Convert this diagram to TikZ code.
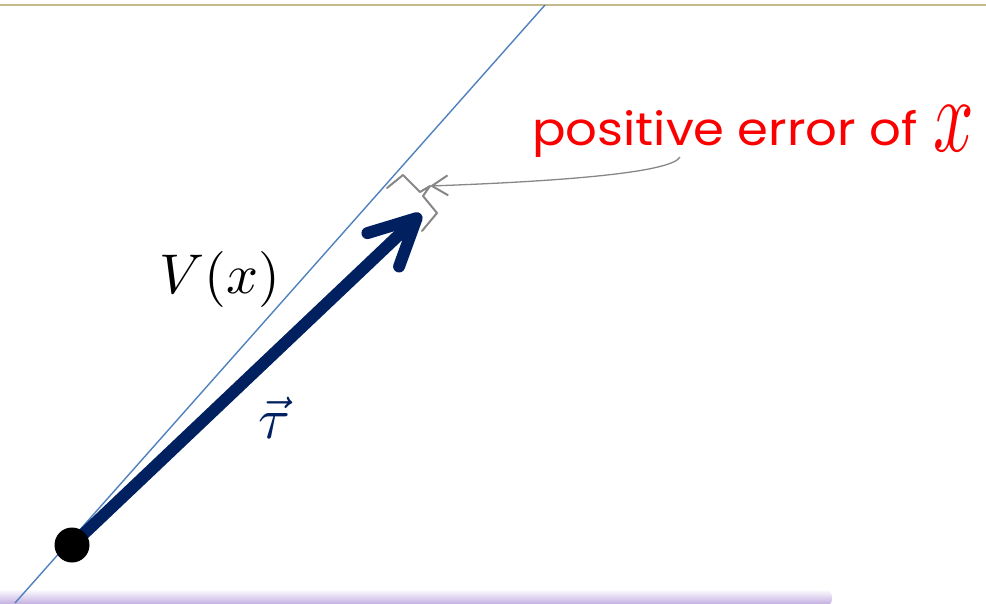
\documentclass[tikz,border=0pt]{standalone}
\usepackage{fontspec}
\newfontfamily\handfont{Poppins}
\usetikzlibrary{arrows.meta}
\definecolor{navy}{RGB}{0,32,96}
\definecolor{lineblue}{RGB}{79,129,189}
\definecolor{topline}{RGB}{196,186,140}
\definecolor{band}{RGB}{185,160,220}
\definecolor{notered}{RGB}{250,0,0}
\definecolor{notegray}{RGB}{135,135,135}
\tikzset{
  notestroke/.style={notegray, line width=2pt, line join=round, line cap=round},
  mathlabel/.style={anchor=base, inner sep=0pt},
}
\begin{document}
\begin{tikzpicture}[x=1pt,y=-1pt]
\useasboundingbox (0,0) rectangle (986,603);
% top rule
\draw[topline, line width=2.5pt] (0,5) -- (986,5);
% bottom band
\begin{scope}
  \clip (0,0) rectangle (986,603);
  \shade[top color=white, bottom color=band, rounded corners=8pt] (-10,589) rectangle (832,607);
\end{scope}
% tangent line
\coordinate (lineA) at (15,603);
\coordinate (lineB) at (545,5);
\draw[lineblue, line width=1.4pt] (lineA) -- (lineB);
% vector
\coordinate (dotc) at (72,545);
\coordinate (tip) at (421,214);
\draw[navy, line width=12pt, line cap=round,
  -{Straight Barb[length=46pt, width=46pt, line cap=round, line join=round]}] (dotc) -- (tip);
\node[circle, fill=black, minimum size=35pt, inner sep=0pt] (dot) at (dotc) {};
% brace
\coordinate (b1) at (387,188);
\coordinate (b2) at (403,175);
\coordinate (b3) at (420,192);
\coordinate (btip) at (430,186);
\coordinate (b5) at (423,196);
\coordinate (b6) at (437,213);
\coordinate (b7) at (422,231);
\draw[notestroke] (b1) -- (b2) -- (b3) -- (btip) -- (b5) -- (b6) -- (b7);
% annotation
\node[text=notered, font=\handfont\fontsize{46}{50}\selectfont, anchor=base west, inner sep=0pt] (note) at (532,145) {\scalebox{1.08}[1]{positive error of}};
\node[text=notered, anchor=base west, inner sep=0pt] (notex) at (933,151) {\scalebox{7.1}[10.6]{$x$}};
\coordinate (noteStart) at (680,157);
\draw[notegray, line width=1.3pt, -{Straight Barb[length=16pt, width=20pt, line width=2pt]}]
  (noteStart) .. controls (672,172) and (570,181) .. (btip);
% labels
\node[mathlabel] (Vlabel) at (220,293) {\scalebox{5.6}{$V(x)$}};
\node[mathlabel, text=navy] (taulabel) at (274,438) {\scalebox{5.8}{$\vec{\tau}$}};
\end{tikzpicture}
\end{document}
